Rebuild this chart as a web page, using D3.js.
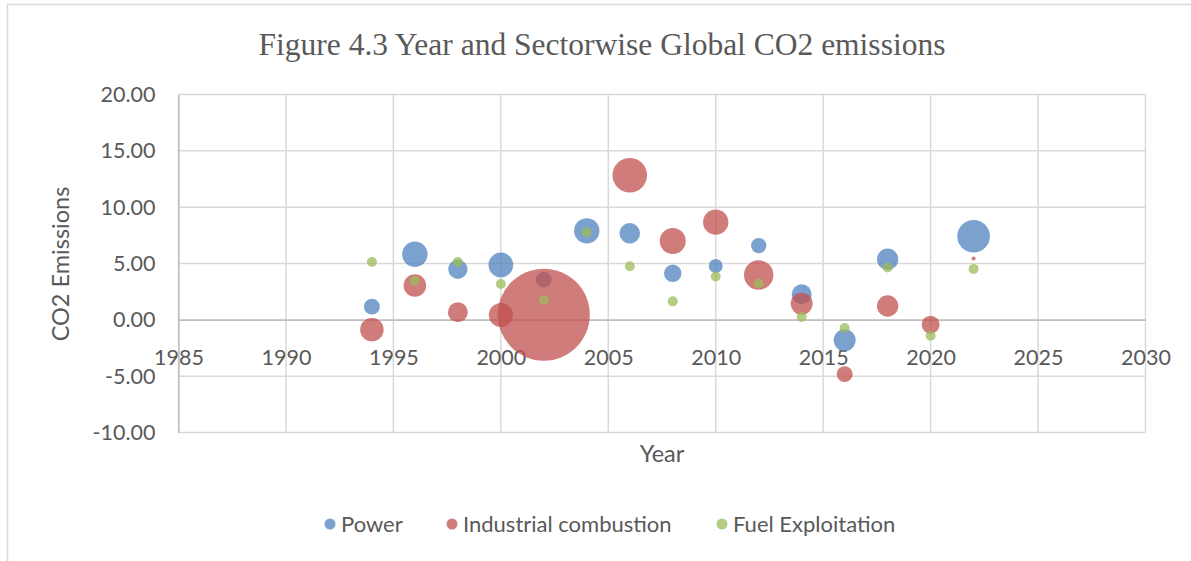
<!DOCTYPE html>
<html>
<head>
<meta charset="utf-8">
<script src="https://cdn.jsdelivr.net/npm/d3@7"></script>
<style>
  html, body { margin: 0; padding: 0; background: #fff; }
  svg { display: block; }
</style>
</head>
<body>
<svg id="chart" width="1191" height="561"></svg>
<script>
// Sector emission change per year (y) with bubble weights (size)
const years = [1994, 1996, 1998, 2000, 2002, 2004, 2006, 2008, 2010, 2012, 2014, 2016, 2018, 2020, 2022];

const powerYears  = [1994, 1996, 1998, 2000, 2002, 2004, 2006, 2008, 2010, 2012, 2014, 2016, 2018, 2022];
const powerValues = [1.17, 5.82, 4.49, 4.87, 3.57, 7.90, 7.69, 4.13, 4.78, 6.59, 2.27, -1.82, 5.38, 7.42];
const powerSizes  = [3.0, 7.6, 4.4, 7.2, 3.0, 7.6, 5.0, 3.6, 2.3, 2.8, 4.7, 5.7, 5.4, 12.6];

const industryYears  = [1994, 1996, 1998, 2000, 2002, 2006, 2008, 2010, 2012, 2014, 2016, 2018, 2020, 2022];
const industryValues = [-0.87, 3.04, 0.67, 0.43, 0.46, 12.84, 7.00, 8.67, 3.98, 1.44, -4.82, 1.23, -0.43, 5.44];
const industrySizes  = [6.5, 6.0, 4.7, 6.8, 100, 14.1, 8.0, 7.6, 10.2, 5.7, 3.0, 5.4, 3.8, 0.19];

const fuelYears  = years;
const fuelValues = [5.14, 3.45, 5.14, 3.18, 1.76, 7.78, 4.76, 1.64, 3.84, 3.22, 0.25, -0.73, 4.64, -1.41, 4.52];
const fuelSizes  = [1.18, 1.18, 1.18, 1.18, 1.18, 1.18, 1.18, 1.18, 1.18, 1.18, 1.18, 1.18, 1.18, 1.18, 1.18];

const seriesNames = ["Power", "Industrial combustion", "Fuel Exploitation"];
const seriesColors = ["#4F81BD", "#C0504D", "#9BBB59"];

const xTicks = [1985, 1990, 1995, 2000, 2005, 2010, 2015, 2020, 2025, 2030];
const yTicks = [-10, -5, 0, 5, 10, 15, 20];

const chartTitle = "Figure 4.3 Year and Sectorwise Global CO2 emissions";
const xTitle = "Year";
const yTitle = "CO2 Emissions";

const series = [
  { name: seriesNames[0], color: seriesColors[0], pts: powerYears.map((d, i) => ({ x: d, y: powerValues[i], s: powerSizes[i] })) },
  { name: seriesNames[1], color: seriesColors[1], pts: industryYears.map((d, i) => ({ x: d, y: industryValues[i], s: industrySizes[i] })) },
  { name: seriesNames[2], color: seriesColors[2], pts: fuelYears.map((d, i) => ({ x: d, y: fuelValues[i], s: fuelSizes[i] })) }
];

const svg = d3.select("#chart");
const W = 1191, H = 561;
const plot = { left: 178.5, right: 1145.5, top: 94.5, bottom: 432.5 };
const labelFont = "Lato, 'Open Sans', sans-serif";
const textColor = "#595959";

// outer chart frame
svg.append("rect")
  .attr("x", 7.5).attr("y", 4.5)
  .attr("width", W + 10).attr("height", H + 10)
  .attr("fill", "#fff").attr("stroke", "#d9d9d9").attr("stroke-width", 1.5);

const x = d3.scaleLinear().domain([1985, 2030]).range([plot.left, plot.right]);
const y = d3.scaleLinear().domain([-10, 20]).range([plot.bottom, plot.top]);
const r = d3.scaleSqrt().domain([0, d3.max(industrySizes)]).range([0, 46]);

// gridlines
const grid = svg.append("g");
grid.selectAll("line.h").data(yTicks).join("line")
  .attr("x1", plot.left).attr("x2", plot.right)
  .attr("y1", d => y(d)).attr("y2", d => y(d))
  .attr("stroke", "#d9d9d9").attr("stroke-width", 1.5);
grid.selectAll("line.v").data(xTicks).join("line")
  .attr("x1", d => x(d)).attr("x2", d => x(d))
  .attr("y1", plot.top).attr("y2", plot.bottom)
  .attr("stroke", "#d9d9d9").attr("stroke-width", 1.5);

// axes: the horizontal axis crosses at zero, the vertical at 1985
const fmt2 = v => v.toFixed(2);
const yAxis = svg.append("g")
  .attr("transform", `translate(${plot.left},0)`)
  .call(d3.axisLeft(y).tickValues(yTicks).tickFormat(fmt2).tickSize(0).tickPadding(23));
yAxis.select(".domain").attr("stroke", "#bfbfbf").attr("stroke-width", 1.5);
yAxis.selectAll("text").attr("font-family", labelFont).attr("font-size", 21.5).attr("fill", textColor);

const xAxis = svg.append("g")
  .attr("transform", `translate(0,${y(0)})`)
  .call(d3.axisBottom(x).tickValues(xTicks).tickFormat(d => String(d)).tickSize(0).tickPadding(30));
xAxis.select(".domain").attr("stroke", "#bfbfbf").attr("stroke-width", 1.5);
xAxis.selectAll("text").attr("font-family", labelFont).attr("font-size", 21.5).attr("fill", textColor);

// bubbles, drawn series by series
const bubbles = svg.append("g");
series.forEach(s => {
  bubbles.append("g").selectAll("circle").data(s.pts).join("circle")
    .attr("cx", d => x(d.x))
    .attr("cy", d => y(d.y))
    .attr("r", d => r(d.s))
    .attr("fill", s.color)
    .attr("fill-opacity", 0.75);
});

// titles
svg.append("text")
  .attr("x", 602).attr("y", 55)
  .attr("text-anchor", "middle")
  .attr("font-family", "'Liberation Serif', 'Times New Roman', serif")
  .attr("font-size", 31.5).attr("fill", textColor)
  .text(chartTitle);

svg.append("text")
  .attr("x", 662).attr("y", 462)
  .attr("text-anchor", "middle")
  .attr("font-family", labelFont).attr("font-size", 23.5).attr("fill", textColor)
  .text(xTitle);

svg.append("text")
  .attr("transform", `translate(69,264) rotate(-90)`)
  .attr("text-anchor", "middle")
  .attr("font-family", labelFont).attr("font-size", 23.5).attr("fill", textColor)
  .text(yTitle);

// legend
const legendX = [330, 452, 722];
const legend = svg.append("g");
series.forEach((s, i) => {
  const g = legend.append("g").attr("transform", `translate(${legendX[i]},524)`);
  g.append("circle").attr("r", 5.5).attr("fill", s.color).attr("fill-opacity", 0.75);
  g.append("text")
    .attr("x", 11).attr("y", 8)
    .attr("font-family", labelFont).attr("font-size", 22).attr("fill", textColor)
    .text(s.name);
});
</script>
</body>
</html>
